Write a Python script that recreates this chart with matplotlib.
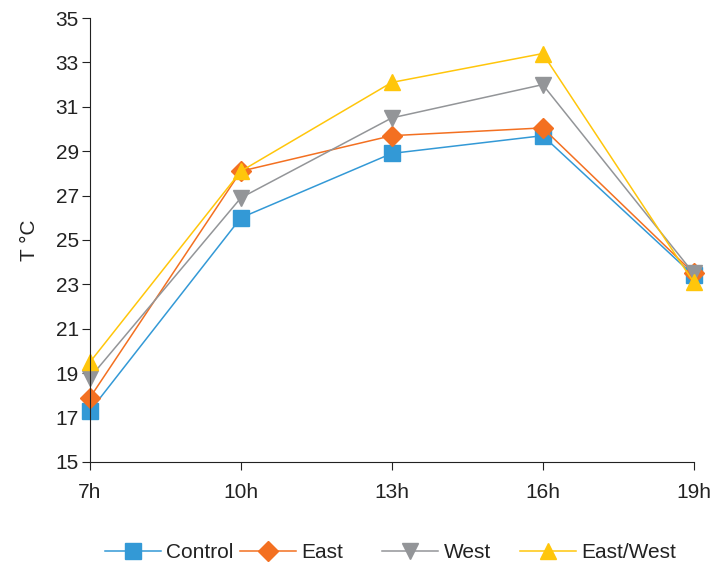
import matplotlib
matplotlib.use('Agg')
import matplotlib.pyplot as plt

hours = ['7h', '10h', '13h', '16h', '19h']
control = [17.3, 26.0, 28.9, 29.7, 23.4]
east = [17.9, 28.1, 29.7, 30.05, 23.5]
west = [18.8, 26.9, 30.5, 32.0, 23.5]
east_west = [19.5, 28.1, 32.1, 33.4, 23.1]

plt.rcParams['font.family'] = ['Liberation Sans', 'DejaVu Sans']
txt = '#222222'

fig = plt.figure(figsize=(7.16, 5.64), dpi=100)
ax = fig.add_axes([0.1257, 0.181, 0.843, 0.787])

x = range(len(hours))
ax.plot(x, control, color='#3399D6', lw=1.1, marker='s', ms=11, label='Control')
ax.plot(x, east, color='#F37021', lw=1.1, marker='D', ms=10, label='East')
ax.plot(x, west, color='#939598', lw=1.1, marker='v', ms=12, label='West')
ax.plot(x, east_west, color='#FFC60B', lw=1.1, marker='^', ms=12, label='East/West')

ax.set_xlim(0, 4)
ax.set_ylim(15, 35)
ax.set_xticks(list(x))
ax.set_xticklabels(hours)
ax.set_yticks(range(15, 36, 2))
ax.tick_params(labelsize=15, length=6, color=txt, labelcolor=txt, pad=2)
ax.tick_params(axis='x', pad=9)
ax.set_ylabel('T °C', fontsize=15, color=txt, labelpad=12)
for s in ['top', 'right']:
    ax.spines[s].set_visible(False)
for s in ['left', 'bottom']:
    ax.spines[s].set_color(txt)
ax.patch.set_visible(False)
for ln in ax.lines:
    ln.set_clip_on(False)

# one legend per entry so the columns sit where they do in the original
starts = [105, 240, 382, 520]
for ln, xs in zip(ax.lines, starts):
    lg = fig.legend([ln], [ln.get_label()], loc='center left',
                    bbox_to_anchor=(xs / 716, 11 / 564), frameon=False,
                    fontsize=15, handlelength=2.7, handletextpad=0.25,
                    borderpad=0, borderaxespad=0, labelcolor=txt)

fig.savefig('out.png', dpi=100)
